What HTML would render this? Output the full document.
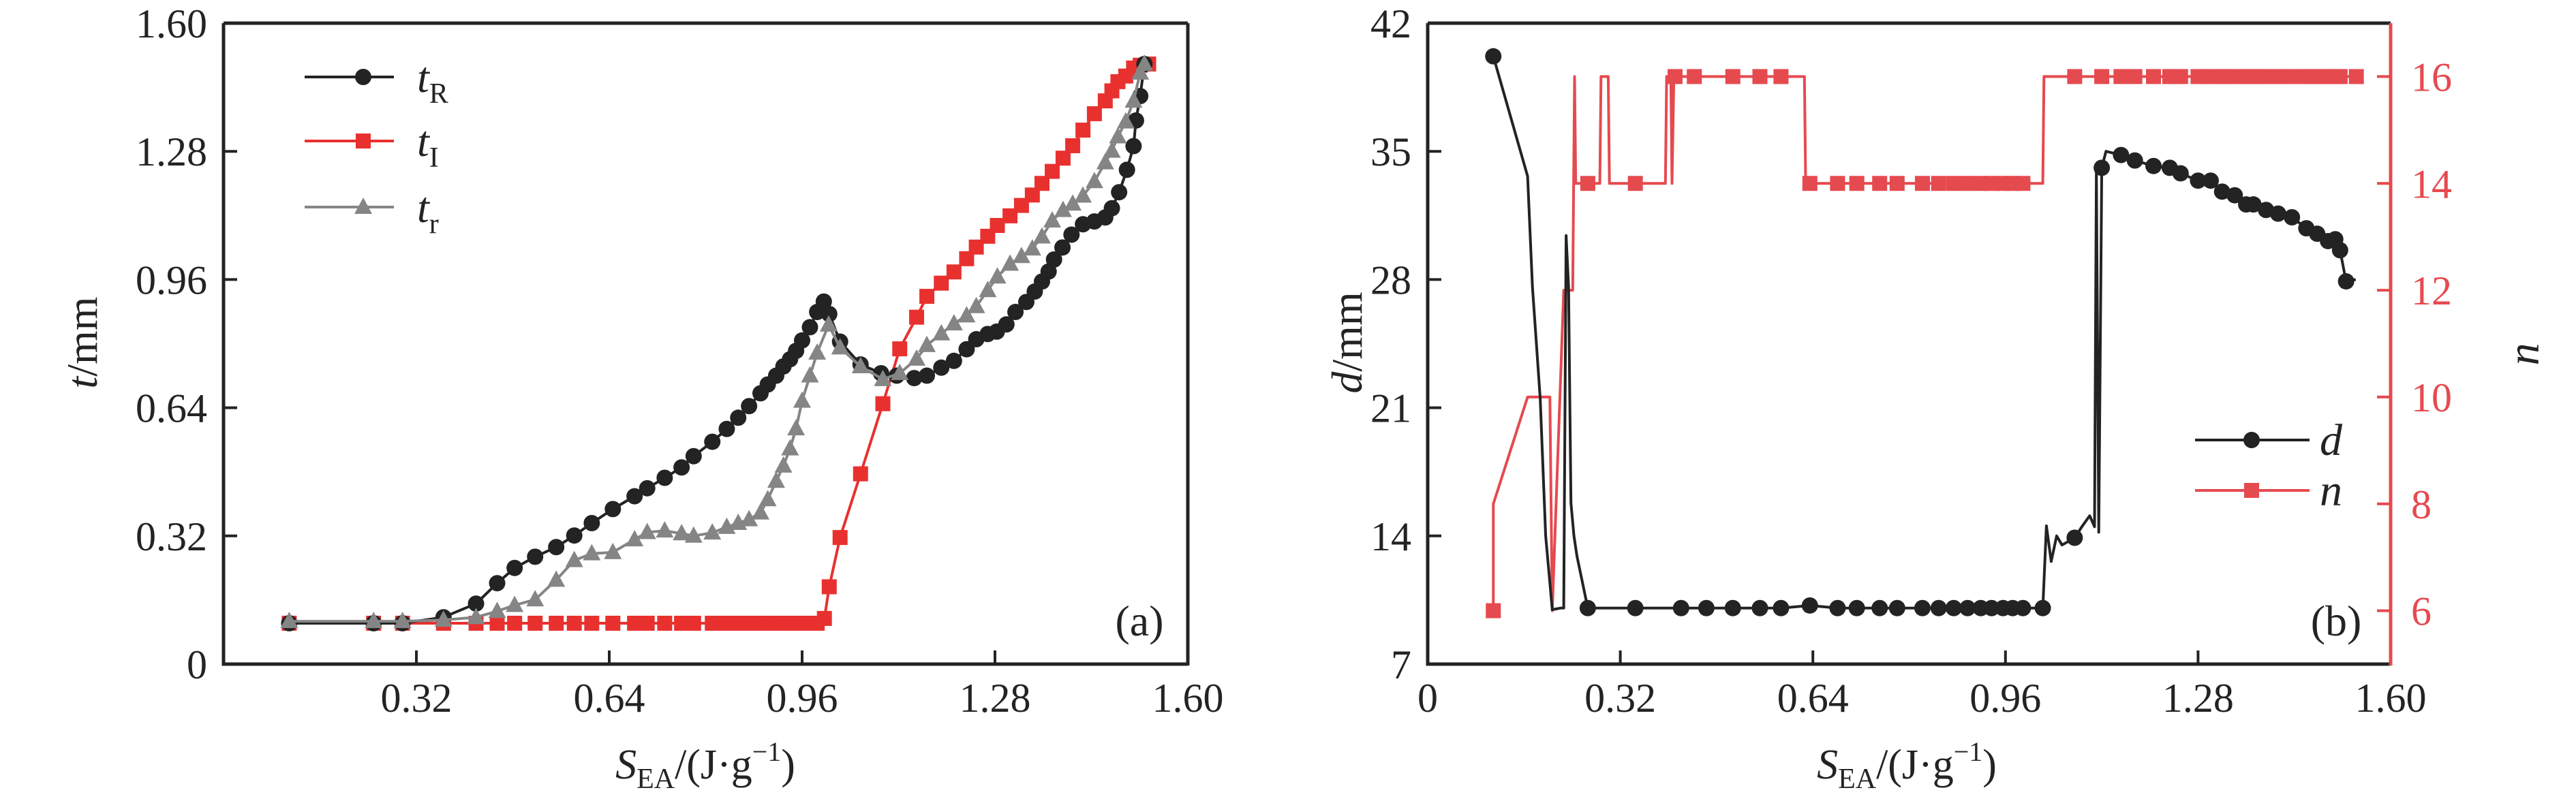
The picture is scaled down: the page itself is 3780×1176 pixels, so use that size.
<!DOCTYPE html>
<html><head><meta charset="utf-8"><style>
html,body{margin:0;padding:0;background:#fff;}
svg{display:block;font-family:"Liberation Serif","Times New Roman",serif;}
svg text{font-family:"Liberation Serif","Times New Roman",serif;}
</style></head><body>
<svg id="chart" width="3780" height="1176" viewBox="0 0 3780 1176" xmlns="http://www.w3.org/2000/svg" font-family="Liberation Serif, serif">
<g id="pa"></g>
<g id="pb"></g>
</svg>
<script>
// ---------- Panel (a) data ----------
const aTicksX = [0.32, 0.64, 0.96, 1.28, 1.60];
const aTickLabelsX = ["0.32", "0.64", "0.96", "1.28", "1.60"];
const aTicksY = [0, 0.32, 0.64, 0.96, 1.28, 1.60];
const aTickLabelsY = ["0", "0.32", "0.64", "0.96", "1.28", "1.60"];
const tRx = [.109,.249,.297,.365,.419,.454,.483,.517,.552,.582,.611,.646,.682,.703,.732,.760,.780,.811,.835,.854,.872,.891,.903,.917,.929,.940,.950,.960,.973,.985,.996,1.005,1.023,1.057,1.091,1.117,1.146,1.167,1.191,1.212,1.233,1.249,1.268,1.283,1.299,1.314,1.332,1.346,1.358,1.369,1.378,1.392,1.407,1.426,1.445,1.463,1.474,1.486,1.499,1.510,1.514,1.521,1.528];
const tRy = [.102,.102,.102,.117,.151,.202,.240,.268,.292,.321,.352,.387,.419,.439,.465,.491,.519,.555,.587,.615,.644,.676,.698,.720,.743,.761,.782,.808,.841,.879,.905,.874,.805,.748,.726,.720,.714,.720,.740,.757,.786,.811,.824,.830,.848,.879,.904,.930,.955,.980,1.010,1.040,1.072,1.098,1.105,1.115,1.138,1.178,1.234,1.293,1.357,1.418,1.498];
const tIx = [.109,.249,.297,.365,.419,.454,.483,.517,.552,.582,.611,.646,.682,.703,.732,.760,.780,.811,.835,.854,.872,.891,.903,.917,.929,.940,.950,.960,.973,.985,.997,1.005,1.023,1.057,1.094,1.122,1.150,1.167,1.191,1.212,1.233,1.249,1.268,1.284,1.305,1.324,1.342,1.358,1.375,1.393,1.409,1.426,1.445,1.463,1.474,1.484,1.497,1.510,1.521,1.535];
const tIy = [.102,.102,.102,.102,.102,.102,.102,.102,.102,.102,.102,.102,.102,.102,.102,.102,.102,.102,.102,.102,.102,.102,.102,.102,.102,.102,.102,.102,.102,.102,.114,.193,.316,.475,.650,.787,.866,.918,.951,.979,1.012,1.041,1.068,1.095,1.119,1.145,1.171,1.200,1.230,1.263,1.294,1.333,1.374,1.406,1.431,1.454,1.468,1.488,1.495,1.498];
const trx = [.109,.249,.297,.365,.419,.454,.483,.517,.552,.582,.611,.646,.682,.703,.732,.760,.780,.811,.835,.854,.872,.891,.903,.917,.929,.940,.950,.960,.973,.985,1.004,1.023,1.057,1.094,1.122,1.150,1.167,1.191,1.212,1.233,1.249,1.268,1.284,1.305,1.324,1.342,1.358,1.375,1.393,1.409,1.426,1.445,1.463,1.474,1.484,1.497,1.510,1.521,1.528];
const try_ = [.107,.107,.107,.110,.117,.132,.147,.161,.210,.259,.276,.279,.311,.329,.333,.326,.320,.328,.342,.352,.361,.378,.411,.457,.495,.538,.588,.657,.720,.777,.847,.790,.743,.711,.726,.762,.796,.825,.850,.870,.893,.933,.967,.999,1.018,1.037,1.067,1.107,1.133,1.149,1.169,1.205,1.252,1.281,1.317,1.354,1.406,1.476,1.498];

// ---------- Panel (b) data ----------
const bTicksX = [0, 0.32, 0.64, 0.96, 1.28, 1.60];
const bTickLabelsX = ["0", "0.32", "0.64", "0.96", "1.28", "1.60"];
const bTicksD = [7, 14, 21, 28, 35, 42];
const bTickLabelsD = ["7", "14", "21", "28", "35", "42"];
const bTicksN = [6, 8, 10, 12, 14, 16];
const bTickLabelsN = ["6", "8", "10", "12", "14", "16"];
const dX = [.109,.166,.174,.187,.196,.207,.221,.226,.230,.234,.238,.243,.248,.266,.345,.421,.463,.507,.552,.587,.635,.681,.713,.751,.780,.822,.849,.874,.897,.919,.937,.956,.972,.989,1.022,1.028,1.036,1.045,1.054,1.075,1.088,1.100,1.108,1.111,1.115,1.120,1.127,1.152,1.175,1.206,1.233,1.251,1.280,1.301,1.320,1.341,1.360,1.372,1.393,1.413,1.436,1.460,1.478,1.496,1.508,1.516,1.526,1.542];
const dY = [40.19,33.64,27.6,21.5,14.0,9.97,10.06,10.06,30.4,27.6,15.8,14.0,12.9,10.06,10.06,10.06,10.06,10.06,10.06,10.06,10.2,10.06,10.06,10.06,10.06,10.06,10.06,10.06,10.06,10.06,10.06,10.06,10.06,10.06,10.06,14.55,12.6,14.0,13.5,13.9,14.55,15.1,14.5,34.0,14.2,34.1,35.0,34.8,34.5,34.2,34.1,33.8,33.4,33.4,32.8,32.6,32.1,32.1,31.8,31.6,31.4,30.8,30.5,30.1,30.2,29.6,27.9,28.0];
const dMark = [1,0,0,0,0,0,0,0,0,0,0,0,0,1,1,1,1,1,1,1,1,1,1,1,1,1,1,1,1,1,1,1,1,1,1,0,0,0,0,1,0,0,0,0,0,1,0,1,1,1,1,1,1,1,1,1,1,1,1,1,1,1,1,1,1,1,1,0];
const nX = [.109,.109,.166,.203,.207,.226,.241,.244,.246,.266,.286,.288,.300,.302,.345,.395,.397,.404,.406,.409,.411,.443,.507,.552,.587,.626,.628,.635,.681,.713,.751,.780,.822,.849,.874,.897,.919,.937,.956,.972,.989,1.022,1.024,1.075,1.120,1.152,1.175,1.206,1.233,1.251,1.280,1.301,1.320,1.341,1.360,1.372,1.393,1.413,1.436,1.460,1.478,1.496,1.508,1.516,1.543];
const nY = [6,8,10,10,6,12,12,16,14,14,14,16,16,14,14,14,16,16,14,16,16,16,16,16,16,16,14,14,14,14,14,14,14,14,14,14,14,14,14,14,14,14,16,16,16,16,16,16,16,16,16,16,16,16,16,16,16,16,16,16,16,16,16,16,16];
const nMark = [1,0,0,0,0,0,0,0,0,1,0,0,0,0,1,0,0,0,0,0,1,1,1,1,1,0,0,1,1,1,1,1,1,1,1,1,1,1,1,1,1,0,0,1,1,1,1,1,1,1,1,1,1,1,1,1,1,1,1,1,1,1,1,1,1];

const NS = "http://www.w3.org/2000/svg";
const FF = "Liberation Serif, Times New Roman, serif";
function mk(parent, tag, attrs){const e=document.createElementNS(NS,tag);for(const k in attrs)e.setAttribute(k,attrs[k]);if(tag==='text')e.setAttribute('font-family',FF);parent.appendChild(e);return e;}

const BLACK="#232323", RED_A="#e8312f", RED_B="#e54a4f", GRAY="#858585";
const TOP=34, BOT=975, FS=60;

// ---------- Panel (a) ----------
const pa=document.getElementById('pa');
const aL=328, aR=1743;
const ax=v=>aL+(v-0)/(1.6-0)*(aR-aL);
const ay=v=>BOT-(v-0)/(1.6-0)*(BOT-TOP);

function series(parent,xs,ys,fx,fy,color,marker,name,markFlags){
  const g=mk(parent,'g',{});
  
  
  let d='';
  xs.forEach((v,i)=>{d+=(i?'L':'M')+fx(v).toFixed(1)+' '+fy(ys[i]).toFixed(1);});
  const p=mk(g,'path',{d:d,fill:'none',stroke:color,'stroke-width':4,'stroke-linejoin':'round'});
  
  
  xs.forEach((v,i)=>{
    if(markFlags && !markFlags[i]) return;
    drawMarker(g,fx(v),fy(ys[i]),color,marker,name+'-point');
  });
  return g;
}
function drawMarker(g,x,y,color,marker,name){
  let m;
  if(marker==='circle') m=mk(g,'circle',{cx:x,cy:y,r:12,fill:color});
  else if(marker==='square') m=mk(g,'rect',{x:x-11,y:y-11,width:22,height:22,fill:color});
  else m=mk(g,'polygon',{points:`${x},${y-14} ${x-13},${y+10} ${x+13},${y+10}`,fill:color});
  
  
}

series(pa,tIx,tIy,ax,ay,RED_A,'square','series-t-i');
series(pa,tRx,tRy,ax,ay,BLACK,'circle','series-t-r-upper');
series(pa,trx,try_,ax,ay,GRAY,'triangle','series-t-r-lower');

function frame(parent,L,R,rightColor,name){
  const f=mk(parent,'path',{d:`M${L} ${TOP}H${R}`,stroke:BLACK,'stroke-width':5,fill:'none'});
  
  const b=mk(parent,'path',{d:`M${L} ${TOP}V${BOT}H${R}`,stroke:BLACK,'stroke-width':5,fill:'none'});
  
  const r=mk(parent,'path',{d:`M${R} ${TOP}V${BOT+2}`,stroke:rightColor,'stroke-width':5,fill:'none'});
  
}
frame(pa,aL,aR,BLACK,'panel-a');

function txt(parent,x,y,s,attrs,name){
  const t=mk(parent,'text',Object.assign({x:x,y:y,'font-size':FS,fill:BLACK},attrs||{}));
  t.textContent=s;
  
  
  return t;
}
aTicksX.forEach((v,i)=>{
  const t=mk(pa,'line',{x1:ax(v),x2:ax(v),y1:BOT,y2:BOT-20,stroke:BLACK,'stroke-width':4});
  
  txt(pa,ax(v),1045,aTickLabelsX[i],{'text-anchor':'middle'},'x-tick-label');
});
aTicksY.forEach((v,i)=>{
  const t=mk(pa,'line',{x1:aL,x2:aL+20,y1:ay(v),y2:ay(v),stroke:BLACK,'stroke-width':4});
  
  txt(pa,304,ay(v)+21,aTickLabelsY[i],{'text-anchor':'end'},'y-tick-label');
});

function xTitle(parent,cx){
  const t=mk(parent,'text',{x:cx,y:1143,'font-size':62,fill:BLACK,'text-anchor':'middle'});
  
  t.innerHTML='<tspan font-style="italic">S</tspan><tspan font-size="42" dy="14">EA</tspan><tspan dy="-14">/(J·g</tspan><tspan font-size="40" dy="-26">−1</tspan><tspan dy="26">)</tspan>';
}
xTitle(pa,1035);
{
  const t=mk(pa,'text',{x:0,y:0,'font-size':64,fill:BLACK,'text-anchor':'middle',transform:'translate(142,503) rotate(-90)'});
  
  t.innerHTML='<tspan font-style="italic">t</tspan>/mm';
}
// legend a
const legA=mk(pa,'g',{});

[[BLACK,'circle','R',113],[RED_A,'square','I',207],[GRAY,'triangle','r',304]].forEach(([c,m,sub,y])=>{
  const e=mk(legA,'g',{});
  
  const l=mk(e,'line',{x1:447,x2:578,y1:y,y2:y,stroke:c,'stroke-width':4});
  
  drawMarker(e,533,y,c,m,'legend-marker');
  const t=mk(e,'text',{x:612,y:y+22,'font-size':64,fill:BLACK});
  
  t.innerHTML='<tspan font-style="italic">t</tspan><tspan font-size="42" dy="16">'+sub+'</tspan>';
});
txt(pa,1672,933,'(a)',{'text-anchor':'middle','font-size':64},'panel-label-a');

// ---------- Panel (b) ----------
const pb=document.getElementById('pb');
const bL=2095, bR=3508;
const bx=v=>bL+(v-0)/(1.6-0)*(bR-bL);
const byD=v=>BOT-(v-7)/(42-7)*(BOT-TOP);
const byN=v=>BOT-(v-5)/(17-5)*(BOT-TOP);

series(pb,nX,nY,bx,byN,RED_B,'square','series-n',nMark);
series(pb,dX,dY,bx,byD,BLACK,'circle','series-d',dMark);
frame(pb,bL,bR,RED_B,'panel-b');

bTicksX.forEach((v,i)=>{
  if(v>0 && v<1.6){
    const t=mk(pb,'line',{x1:bx(v),x2:bx(v),y1:BOT,y2:BOT-20,stroke:BLACK,'stroke-width':4});
    
  }
  txt(pb,bx(v),1045,bTickLabelsX[i],{'text-anchor':'middle'},'x-tick-label');
});
bTicksD.forEach((v,i)=>{
  const t=mk(pb,'line',{x1:bL,x2:bL+20,y1:byD(v),y2:byD(v),stroke:BLACK,'stroke-width':4});
  
  txt(pb,bL-24,byD(v)+21,bTickLabelsD[i],{'text-anchor':'end'},'y-tick-label');
});
bTicksN.forEach((v,i)=>{
  const t=mk(pb,'line',{x1:bR,x2:bR-20,y1:byN(v),y2:byN(v),stroke:RED_B,'stroke-width':4});
  
  txt(pb,bR+30,byN(v)+21,bTickLabelsN[i],{'text-anchor':'start',fill:RED_B},'y2-tick-label');
});
xTitle(pb,2798);
{
  const t=mk(pb,'text',{x:0,y:0,'font-size':64,fill:BLACK,'text-anchor':'middle',transform:'translate(1998,503) rotate(-90)'});
  
  t.innerHTML='<tspan font-style="italic">d</tspan>/mm';
  const t2=mk(pb,'text',{x:0,y:0,'font-size':66,fill:BLACK,'text-anchor':'middle','font-style':'italic',transform:'translate(3725,520) rotate(-90)'});
  
  t2.textContent='n';
}
const legB=mk(pb,'g',{});

[[BLACK,'circle','d',646],[RED_B,'square','n',720]].forEach(([c,m,lab,y])=>{
  const e=mk(legB,'g',{});
  
  const l=mk(e,'line',{x1:3221,x2:3389,y1:y,y2:y,stroke:c,'stroke-width':4});
  
  drawMarker(e,3304,y,c,m,'legend-marker');
  const t=mk(e,'text',{x:3404,y:y+22,'font-size':66,fill:BLACK,'font-style':'italic'});
  
  t.textContent=lab;
});
txt(pb,3428,933,'(b)',{'text-anchor':'middle','font-size':64},'panel-label-b');
</script>
</body></html>
